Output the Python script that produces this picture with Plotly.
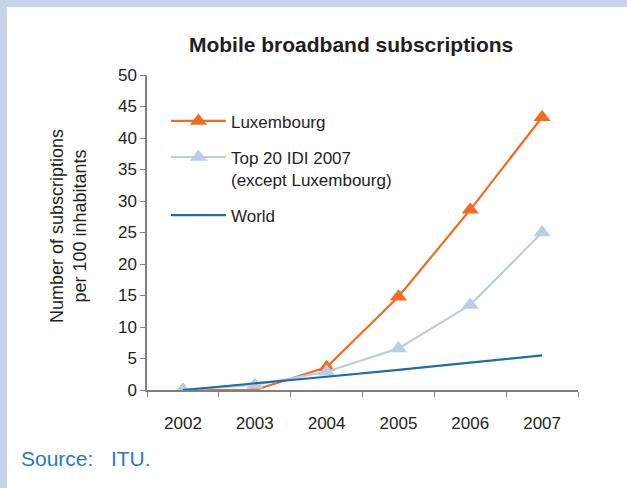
import plotly.graph_objects as go

years = ["2002", "2003", "2004", "2005", "2006", "2007"]
luxembourg = [0, 0, 3.6, 14.8, 28.6, 43.3]
top20 = [0, 0.8, 2.9, 6.6, 13.5, 25.0]
world = [0, 1.0, 2.1, 3.2, 4.3, 5.5]

ORANGE = "#f26b21"
LIGHT_BLUE = "#b9cde5"
DARK_BLUE = "#1b6ead"
FRAME = "#c6d6e8"
FONT = "Liberation Sans, Arial, sans-serif"

fig = go.Figure()

fig.add_trace(go.Scatter(
    x=years, y=luxembourg, name="Luxembourg", mode="lines+markers",
    line=dict(color=ORANGE, width=2.2),
    marker=dict(symbol="triangle-up", size=15, color=ORANGE),
    legendgroup="a",
))
fig.add_trace(go.Scatter(
    x=years, y=top20, name="Top 20 IDI 2007<br>(except Luxembourg)", mode="lines+markers",
    line=dict(color=LIGHT_BLUE, width=2.2),
    marker=dict(symbol="triangle-up", size=15, color=LIGHT_BLUE),
    legendgroup="b",
))
fig.add_trace(go.Scatter(
    x=years, y=world, name="World", mode="lines",
    line=dict(color=DARK_BLUE, width=2.2),
    legendgroup="c",
))

# light blue frame along top and left edges
fig.add_shape(type="rect", xref="paper", yref="paper", x0=-0.4, x1=1.2, y0=1.216, y1=1.3,
              fillcolor=FRAME, line_width=0, layer="below")
fig.add_shape(type="rect", xref="paper", yref="paper", x0=-0.4, x1=-0.3248, y0=-0.4, y1=1.3,
              fillcolor=FRAME, line_width=0, layer="below")

# y axis title, placed by hand
fig.add_annotation(
    text="Number of subscriptions<br>per 100 inhabitants", xref="paper", yref="paper",
    x=(68 - 147) / 431, y=(390 - 226) / 315, xanchor="center", yanchor="middle",
    textangle=-90, showarrow=False, font=dict(family=FONT, size=18, color="#231f20"),
)

fig.add_annotation(
    text="Source:&nbsp;&nbsp;&nbsp;ITU.", xref="paper", yref="paper",
    x=(19 - 147) / 431, y=(390 - 458) / 315, xanchor="left", yanchor="middle",
    showarrow=False, font=dict(family=FONT, size=21, color="#1f7dbf"),
)

fig.update_layout(
    width=627, height=488,
    margin=dict(l=147, r=49, t=75, b=98),
    paper_bgcolor="white", plot_bgcolor="white",
    font=dict(family=FONT, size=17, color="#231f20"),
    title=dict(text="<b>Mobile broadband subscriptions</b>", xref="container", x=0.56,
               xanchor="center", y=1 - 45 / 488, yanchor="middle",
               font=dict(size=21, color="#231f20")),
    showlegend=True,
    legend=dict(x=0.044, y=0.91, xanchor="left", yanchor="top", bgcolor="rgba(0,0,0,0)",
                font=dict(size=17), tracegroupgap=11, itemwidth=55, valign="top"),
    xaxis=dict(type="category", range=[-0.5, 5.5], showline=True, linecolor="#808080",
               linewidth=1.5, ticks="outside", ticklen=5, tickcolor="#808080",
               tickson="boundaries", showgrid=False, zeroline=False, ticklabelstandoff=17),
    yaxis=dict(range=[0, 50], dtick=5, showline=True, linecolor="#808080", linewidth=1.5,
               ticks="outside", ticklen=5, tickcolor="#808080", showgrid=False, zeroline=False),
)

fig.write_html("out.html", config={"displayModeBar": False},
               post_script="document.body.style.margin='0';")
